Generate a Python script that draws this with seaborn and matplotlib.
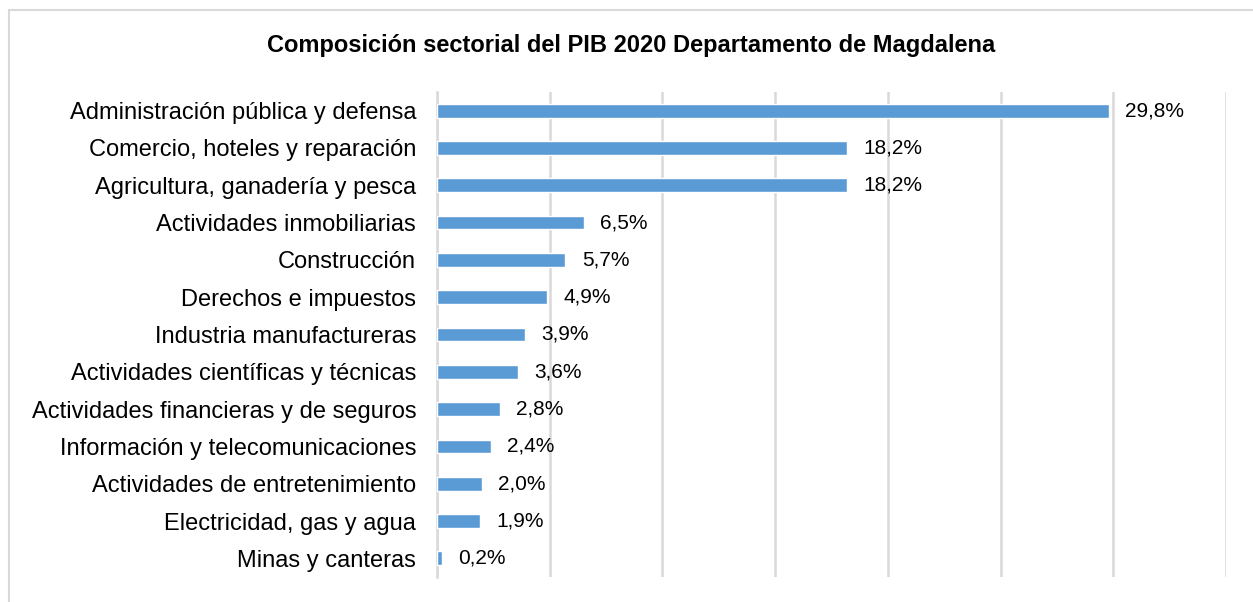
import pandas as pd
import matplotlib.pyplot as plt
import seaborn as sns
from matplotlib.patches import Rectangle

sectores = [
    "Administración pública y defensa",
    "Comercio, hoteles y reparación",
    "Agricultura, ganadería y pesca",
    "Actividades inmobiliarias",
    "Construcción",
    "Derechos e impuestos",
    "Industria manufactureras",
    "Actividades científicas y técnicas",
    "Actividades financieras y de seguros",
    "Información y telecomunicaciones",
    "Actividades de entretenimiento",
    "Electricidad, gas y agua",
    "Minas y canteras",
]
participacion = [29.8, 18.2, 18.2, 6.5, 5.7, 4.9, 3.9, 3.6, 2.8, 2.4, 2.0, 1.9, 0.2]

df = pd.DataFrame({"sector": sectores, "pct": participacion})

sns.set_style("white")
plt.rcParams["font.family"] = ["Liberation Sans", "DejaVu Sans"]

fig = plt.figure(figsize=(12.53, 6.02), dpi=100)
ax = fig.add_axes([437 / 1253, 1 - 577 / 602, (1226 - 437) / 1253, (577 - 92) / 602])

sns.barplot(data=df, x="pct", y="sector", color="#5B9BD5", width=0.37,
            saturation=1, ax=ax, zorder=3)

ax.set_xlim(0, 35)
ax.set_xticks(range(0, 36, 5))
ax.set_xticklabels([])
ax.tick_params(axis="x", length=0)
ax.tick_params(axis="y", length=0, labelsize=17, pad=15, labelcolor="black")
ax.grid(axis="x", color="#D9D9D9", linewidth=1.8, zorder=0)
ax.set_xlabel("")
ax.set_ylabel("")
for s in ["top", "right", "bottom"]:
    ax.spines[s].set_visible(False)
ax.spines["left"].set_color("#D9D9D9")
ax.spines["left"].set_linewidth(1.8)

for i, v in enumerate(participacion):
    ax.text(v + 0.72, i, f"{v:.1f}%".replace(".", ","), va="center", ha="left",
            fontsize=15, color="black")

fig.text(0.5036, 0.925, "Composición sectorial del PIB 2020 Departamento de Magdalena",
         ha="center", va="center", fontsize=17, fontweight="bold", color="black")

# recuadro del gráfico (solo se ven los bordes superior e izquierdo)
fig.patches.append(Rectangle((9 / 1253, -0.1), 1.2, 1 - 10 / 602 + 0.1,
                             transform=fig.transFigure, fill=False,
                             edgecolor="#D9D9D9", linewidth=1.5))

fig.savefig("out.png", dpi=100, facecolor="white")
